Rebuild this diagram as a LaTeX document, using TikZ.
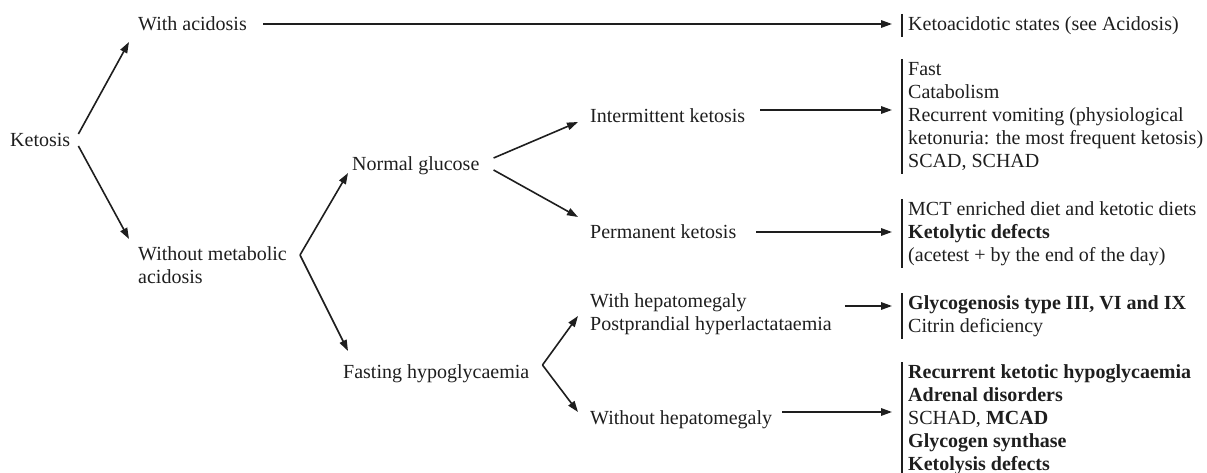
\documentclass[tikz,border=0pt]{standalone}
\usepackage{fontspec}
\setmainfont{Liberation Serif}
\usetikzlibrary{arrows.meta}
\definecolor{ink}{RGB}{30,30,30}
\begin{document}
\begin{tikzpicture}[x=1pt,y=-1pt,
  every node/.style={font=\fontsize{20}{23}\selectfont, text=ink},
  txt/.style={inner sep=0pt, anchor=west, text height=13pt, text depth=0pt},
  two/.style={inner sep=0pt, anchor=west},
  blk/.style={inner xsep=6pt, inner ysep=0pt, anchor=north west},
  arr/.style={draw=ink, line width=1.6pt, -{Triangle[length=11pt,width=7.5pt]}},
  bar/.style={draw=ink, line width=1.2pt}]
\useasboundingbox (0,0) rectangle (1207,473);
% left / middle nodes
\node[txt] (ket) at (10,140) {Ketosis};
\node[txt] (wa)  at (138,24) {With acidosis};
\node[two] (wo)  at (138,267) {\begin{tabular}{@{}l@{}}Without metabolic\\acidosis\end{tabular}};
\node[txt] (ng)  at (352,164) {Normal glucose};
\node[txt] (fh)  at (343,372) {Fasting hypoglycaemia};
\node[txt] (ik)  at (590,116) {Intermittent ketosis};
\node[txt] (pk)  at (590,232) {Permanent ketosis};
\node[two] (wh)  at (590,314.5) {\begin{tabular}{@{}l@{}}With hepatomegaly\\Postprandial hyperlactataemia\end{tabular}};
\node[txt] (woh) at (590,418) {Without hepatomegaly};
% right blocks
\node[blk] (b1) at (902,14) {\begin{tabular}{@{}l@{}}Ketoacidotic states (see Acidosis)\end{tabular}};
\node[blk] (b2) at (902,59) {\begin{tabular}{@{}l@{}}Fast\\Catabolism\\Recurrent vomiting (physiological\\ketonuria: the most frequent ketosis)\\SCAD, SCHAD\end{tabular}};
\node[blk] (b3) at (902,199) {\begin{tabular}{@{}l@{}}MCT enriched diet and ketotic diets\\\textbf{Ketolytic defects}\\(acetest + by the end of the day)\end{tabular}};
\node[blk] (b4) at (902,293) {\begin{tabular}{@{}l@{}}\textbf{Glycogenosis type III, VI and IX}\\Citrin deficiency\end{tabular}};
\node[blk] (b5) at (902,362) {\begin{tabular}{@{}l@{}}\textbf{Recurrent ketotic hypoglycaemia}\\\textbf{Adrenal disorders}\\SCHAD, \textbf{MCAD}\\\textbf{Glycogen synthase}\\\textbf{Ketolysis defects}\end{tabular}};
\foreach \b in {b1,b2,b3,b4,b5} \draw[bar] (\b.north west) -- (\b.south west);
% diagonal arrows
\draw[arr] ([xshift=8pt,yshift=6pt]ket.east) -- ([xshift=-9pt,yshift=-18pt]wa.west);
\draw[arr] ([xshift=8pt,yshift=-6pt]ket.east) -- ([xshift=-9pt,yshift=28pt]wo.west);
\draw[arr] ([xshift=13pt,yshift=12pt]wo.east) -- ([xshift=-4pt,yshift=-9pt]ng.west);
\draw[arr] ([xshift=13pt,yshift=12pt]wo.east) -- ([xshift=5pt,yshift=21pt]fh.west);
\draw[arr] ([xshift=14pt,yshift=6pt]ng.east) -- ([xshift=-12pt,yshift=-6pt]ik.west);
\draw[arr] ([xshift=14pt,yshift=-6pt]ng.east) -- ([xshift=-12pt,yshift=15pt]pk.west);
\draw[arr] ([xshift=13pt,yshift=7pt]fh.east) -- ([xshift=-12pt,yshift=-1.5pt]wh.west);
\draw[arr] ([xshift=13pt,yshift=7pt]fh.east) -- ([xshift=-12pt,yshift=6pt]woh.west);
% horizontal arrows
\draw[arr] ([xshift=16pt]wa.east) -- ([xshift=-10pt]wa.east -| b1.west);
\draw[arr] ([xshift=15pt,yshift=6pt]ik.east) -- ([xshift=-10pt,yshift=6pt]ik.east -| b2.west);
\draw[arr] ([xshift=20pt]pk.east) -- ([xshift=-10pt]pk.east -| b3.west);
\draw[arr] ([xshift=13pt,yshift=8.5pt]wh.east) -- ([xshift=-10pt,yshift=8.5pt]wh.east -| b4.west);
\draw[arr] ([xshift=10pt,yshift=6pt]woh.east) -- ([xshift=-10pt,yshift=6pt]woh.east -| b5.west);
\end{tikzpicture}
\end{document}
